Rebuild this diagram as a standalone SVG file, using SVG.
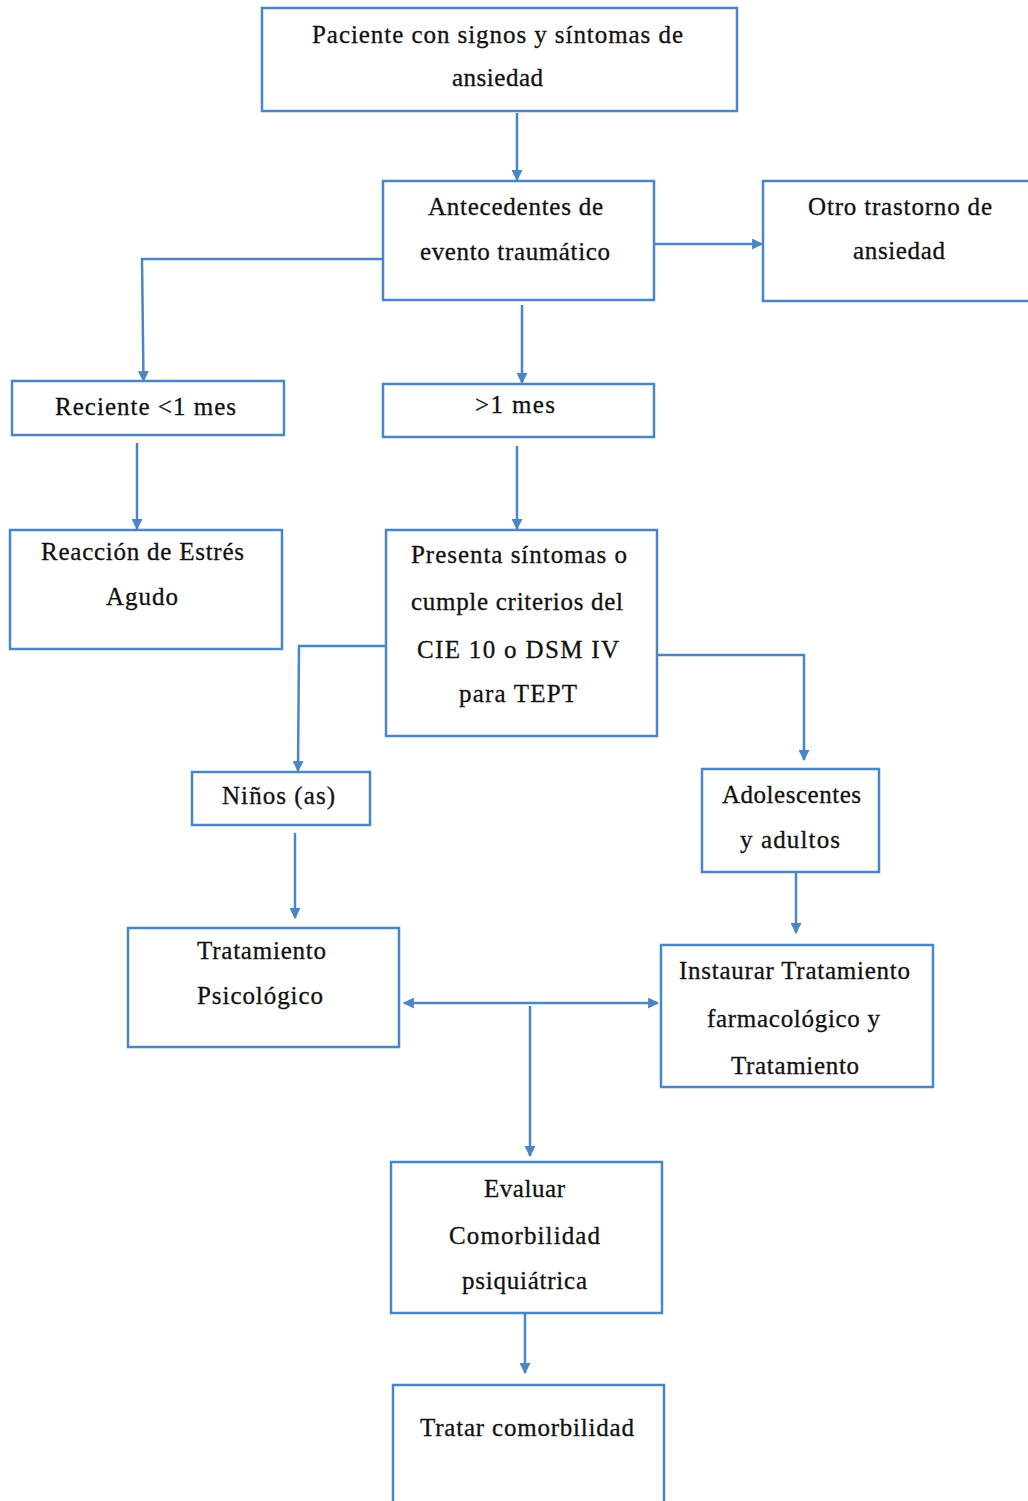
<svg xmlns="http://www.w3.org/2000/svg" width="1028" height="1501" viewBox="0 0 1028 1501">
<style>
.box{fill:#fff;stroke:#4a86c6;stroke-width:2.5}
.t{font-family:"Liberation Serif","Times New Roman",serif;font-size:25px;fill:#111;stroke:#111;stroke-width:0.3;text-anchor:start}
.c{fill:none;stroke:#4a86c6;stroke-width:2.5}
</style>
<defs>
<marker id="ah" viewBox="0 0 10 10" refX="9" refY="5" markerWidth="4.4" markerHeight="4.4" orient="auto-start-reverse" markerUnits="strokeWidth">
<path d="M0,0 L10,5 L0,10 z" fill="#4a86c6"/>
</marker>
</defs>
<rect width="1028" height="1501" fill="#fff"/>
<g id="connectors">
<path class="c" d="M517,113 V180" marker-end="url(#ah)"/>
<path class="c" d="M392,259 H142 L143.5,381" marker-end="url(#ah)"/>
<path class="c" d="M654,244 H762" marker-end="url(#ah)"/>
<path class="c" d="M522,305 V383" marker-end="url(#ah)"/>
<path class="c" d="M137,443 V529" marker-end="url(#ah)"/>
<path class="c" d="M517,446 V529" marker-end="url(#ah)"/>
<path class="c" d="M386,646 H299 L298,771" marker-end="url(#ah)"/>
<path class="c" d="M657,655 H804 V760" marker-end="url(#ah)"/>
<path class="c" d="M295,833 V918" marker-end="url(#ah)"/>
<path class="c" d="M796,873 V933" marker-end="url(#ah)"/>
<path class="c" d="M404,1003 H658" marker-start="url(#ah)" marker-end="url(#ah)"/>
<path class="c" d="M530,1006 V1156" marker-end="url(#ah)"/>
<path class="c" d="M525,1314 V1373" marker-end="url(#ah)"/>
</g>
<g id="n1"><rect class="box" x="262" y="8" width="475" height="103"/>
<text class="t" x="312" y="43" textLength="371">Paciente con signos y síntomas de</text>
<text class="t" x="452" y="86" textLength="91">ansiedad</text></g>
<g id="n2"><rect class="box" x="383" y="181" width="271" height="119"/>
<text class="t" x="428" y="215" textLength="175">Antecedentes de</text>
<text class="t" x="420" y="260" textLength="190">evento traumático</text></g>
<g id="n3"><rect class="box" x="763" y="181" width="275" height="120"/>
<text class="t" x="808" y="215" textLength="184">Otro trastorno de</text>
<text class="t" x="853" y="259" textLength="92">ansiedad</text></g>
<g id="n4"><rect class="box" x="12" y="381" width="272" height="54"/>
<text class="t" x="55" y="415" textLength="181">Reciente &lt;1 mes</text></g>
<g id="n5"><rect class="box" x="383" y="384" width="271" height="53"/>
<text class="t" x="475" y="413" textLength="80">&gt;1 mes</text></g>
<g id="n6"><rect class="box" x="10" y="530" width="272" height="119"/>
<text class="t" x="41" y="560" textLength="203">Reacción de Estrés</text>
<text class="t" x="106" y="605" textLength="72">Agudo</text></g>
<g id="n7"><rect class="box" x="386" y="530" width="271" height="206"/>
<text class="t" x="411" y="563" textLength="216">Presenta síntomas o</text>
<text class="t" x="411" y="610" textLength="212">cumple criterios del</text>
<text class="t" x="417" y="658" textLength="202">CIE 10 o DSM IV</text>
<text class="t" x="459" y="702" textLength="118">para TEPT</text></g>
<g id="n8"><rect class="box" x="192" y="772" width="178" height="53"/>
<text class="t" x="222" y="804" textLength="113">Niños (as)</text></g>
<g id="n9"><rect class="box" x="702" y="769" width="177" height="103"/>
<text class="t" x="722" y="803" textLength="139">Adolescentes</text>
<text class="t" x="740" y="848" textLength="100">y adultos</text></g>
<g id="n10"><rect class="box" x="128" y="928" width="271" height="119"/>
<text class="t" x="197" y="959" textLength="129">Tratamiento</text>
<text class="t" x="197" y="1004" textLength="126">Psicológico</text></g>
<g id="n11"><rect class="box" x="661" y="945" width="272" height="142"/>
<text class="t" x="679" y="979" textLength="231">Instaurar Tratamiento</text>
<text class="t" x="707" y="1027" textLength="173">farmacológico y</text>
<text class="t" x="731" y="1074" textLength="128">Tratamiento</text></g>
<g id="n12"><rect class="box" x="391" y="1162" width="271" height="151"/>
<text class="t" x="484" y="1197" textLength="81">Evaluar</text>
<text class="t" x="449" y="1244" textLength="151">Comorbilidad</text>
<text class="t" x="462" y="1289" textLength="125">psiquiátrica</text></g>
<g id="n13"><rect class="box" x="393" y="1385" width="271" height="130"/>
<text class="t" x="420" y="1436" textLength="214">Tratar comorbilidad</text></g>
</svg>
